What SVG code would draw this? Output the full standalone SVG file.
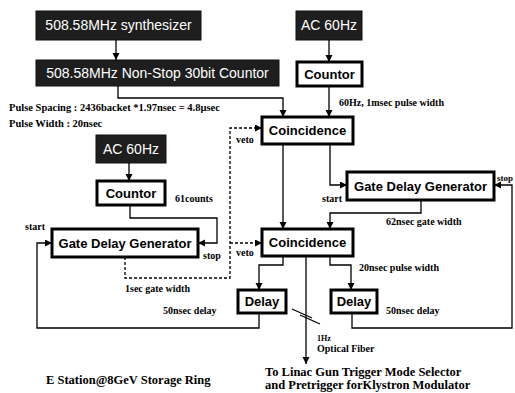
<svg xmlns="http://www.w3.org/2000/svg" width="515" height="393" viewBox="0 0 515 393">
<defs>
<marker id="ah" markerUnits="userSpaceOnUse" markerWidth="8" markerHeight="8" refX="7" refY="3.5" orient="auto">
<path d="M0,0 L7,3.5 L0,7 Z" fill="#000"/>
</marker>
<style>
.dark rect{fill:#1e1e1e;stroke:#111;stroke-width:1}
.dark text{fill:#fff;font-family:"Liberation Sans",Arial,sans-serif;font-size:14px;text-anchor:middle}
.box rect{fill:#fff;stroke:#000;stroke-width:3}
.box text{fill:#000;font-family:"Liberation Sans",Arial,sans-serif;font-size:13px;font-weight:bold;text-anchor:middle}
.wire{fill:none;stroke:#000;stroke-width:1.3}
.dash{fill:none;stroke:#000;stroke-width:1.3;stroke-dasharray:3,2}
.lbl{font-family:"Liberation Serif","Times New Roman",serif;font-size:10px;font-weight:bold;fill:#000}
.big{font-family:"Liberation Serif","Times New Roman",serif;font-size:12.5px;font-weight:bold;fill:#000}
</style>
</defs>
<rect width="515" height="393" fill="#fff"/>

<g id="synth" class="dark"><rect x="36" y="11" width="165" height="29"/><text x="118.5" y="30">508.58MHz synthesizer</text></g>
<g id="nonstop" class="dark"><rect x="36" y="60" width="243" height="26"/><text x="157.5" y="78">508.58MHz Non-Stop 30bit Countor</text></g>
<g id="ac_top" class="dark"><rect x="296" y="11" width="66" height="29"/><text x="329" y="30">AC 60Hz</text></g>
<g id="countor_top" class="box"><rect x="297" y="62" width="65" height="24"/><text x="329.5" y="79">Countor</text></g>
<g id="coinc1" class="box"><rect x="262" y="117" width="91" height="27"/><text x="307.5" y="135">Coincidence</text></g>
<g id="ac_left" class="dark"><rect x="96" y="135" width="70" height="28"/><text x="131" y="154">AC 60Hz</text></g>
<g id="countor_left" class="box"><rect x="97" y="181" width="68" height="24"/><text x="131" y="198">Countor</text></g>
<g id="gdg_left" class="box"><rect x="52" y="229" width="146" height="28"/><text x="125" y="248">Gate Delay Generator</text></g>
<g id="gdg_right" class="box"><rect x="347" y="172" width="147" height="28"/><text x="420.5" y="191">Gate Delay Generator</text></g>
<g id="coinc2" class="box"><rect x="262" y="229" width="91" height="27"/><text x="307.5" y="247">Coincidence</text></g>
<g id="delay_left" class="box"><rect x="238" y="290" width="48" height="23"/><text x="262" y="306">Delay</text></g>
<g id="delay_right" class="box"><rect x="331" y="290" width="46" height="23"/><text x="354" y="306">Delay</text></g>

<g id="connectors">
<path class="wire" d="M116 40 V60" marker-end="url(#ah)"/>
<path class="wire" d="M118 86 V98 H283 V117" marker-end="url(#ah)"/>
<path class="wire" d="M329 40 V62" marker-end="url(#ah)"/>
<path class="wire" d="M329 86 V117" marker-end="url(#ah)"/>
<path class="wire" d="M129 163 V181" marker-end="url(#ah)"/>
<path class="wire" d="M130 205 V218 H217 V243 H198" marker-end="url(#ah)"/>
<path class="dash" d="M125 257 V278 H230 V128 H262" marker-end="url(#ah)"/>
<path class="dash" d="M230 243 H262" marker-end="url(#ah)"/>
<path class="wire" d="M283 144 V229" marker-end="url(#ah)"/>
<path class="wire" d="M330 144 V185 H347" marker-end="url(#ah)"/>
<path class="wire" d="M421 200 V213 H330 V229" marker-end="url(#ah)"/>
<path class="wire" d="M283 256 V265 H259 V290" marker-end="url(#ah)"/>
<path class="wire" d="M330 256 V265 H351 V290" marker-end="url(#ah)"/>
<path class="wire" d="M306 256 V364" marker-end="url(#ah)"/>
<path class="wire" d="M259 313 V328 H37 V243 H52" marker-end="url(#ah)"/>
<path class="wire" d="M352 313 V328 H512 V185 H494" marker-end="url(#ah)"/>
<path class="wire" d="M292 309 L312 318 M300 315 L320 324"/>
</g>

<g id="labels">
<text class="lbl" x="9" y="111" style="font-size:10.5px">Pulse Spacing : 2436backet *1.97nsec = 4.8µsec</text>
<text class="lbl" x="9" y="127" style="font-size:10.5px">Pulse Width : 20nsec</text>
<text class="lbl" x="339" y="106">60Hz, 1msec pulse width</text>
<text class="lbl" x="236" y="143">veto</text>
<text class="lbl" x="236" y="256">veto</text>
<text class="lbl" x="175" y="202">61counts</text>
<text class="lbl" x="25" y="230">start</text>
<text class="lbl" x="203" y="259">stop</text>
<text class="lbl" x="125" y="292">1sec gate width</text>
<text class="lbl" x="322" y="202">start</text>
<text class="lbl" x="497" y="181" style="font-size:9px">stop</text>
<text class="lbl" x="386" y="225">62nsec gate width</text>
<text class="lbl" x="359" y="271">20nsec pulse width</text>
<text class="lbl" x="163" y="314">50nsec delay</text>
<text class="lbl" x="386" y="314">50nsec delay</text>
<text class="lbl" x="317" y="341" style="font-size:8px">1Hz</text>
<text class="lbl" x="317" y="352">Optical Fiber</text>
<text class="big" x="46" y="384">E Station@8GeV Storage Ring</text>
<text class="big" x="265" y="376">To Linac Gun Trigger Mode Selector</text>
<text class="big" x="265" y="389">and Pretrigger forKlystron Modulator</text>
</g>
</svg>
